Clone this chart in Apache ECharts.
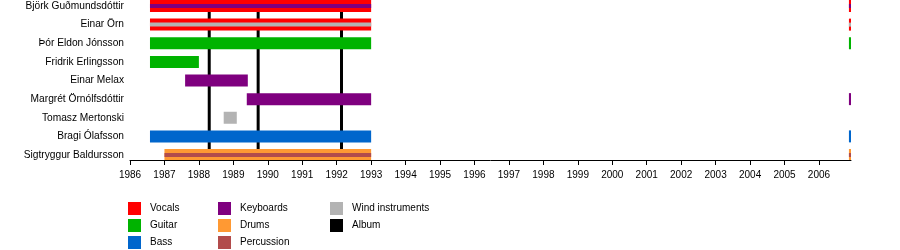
<!DOCTYPE html>
<html>
<head>
<meta charset="utf-8">
<script src="https://cdn.jsdelivr.net/npm/echarts@6/dist/echarts.min.js"></script>
<style>
html,body{margin:0;padding:0;background:#fff;}
#chart{width:900px;height:250px;}
</style>
</head>
<body>
<div id="chart"></div>
<script>
// ---- data ----
const members = ['Björk Guðmundsdóttir','Einar Örn','Þór Eldon Jónsson','Fridrik Erlingsson','Einar Melax','Margrét Örnólfsdóttir','Tomasz Mertonski','Bragi Ólafsson','Sigtryggur Baldursson'];
const roles = ['Vocals','Guitar','Bass','Keyboards','Drums','Percussion','Wind instruments'];
const roleColors = ['#ff0000','#00b300','#0066cc','#7f007f','#ff9933','#b24c4c','#b3b3b3'];
const years = [1986,1987,1988,1989,1990,1991,1992,1993,1994,1995,1996,1997,1998,1999,2000,2001,2002,2003,2004,2005,2006];
const albums = [1988.30, 1989.72, 1992.14];
// main periods: [member, role, start, end]
const periods = [
  ['Björk Guðmundsdóttir','Vocals',1986.58,1993.0],
  ['Björk Guðmundsdóttir','Vocals',2006.87,2006.93],
  ['Einar Örn','Vocals',1986.58,1993.0],
  ['Einar Örn','Vocals',2006.87,2006.93],
  ['Þór Eldon Jónsson','Guitar',1986.58,1993.0],
  ['Þór Eldon Jónsson','Guitar',2006.87,2006.93],
  ['Fridrik Erlingsson','Guitar',1986.58,1988.0],
  ['Einar Melax','Keyboards',1987.6,1989.42],
  ['Margrét Örnólfsdóttir','Keyboards',1989.39,1993.0],
  ['Margrét Örnólfsdóttir','Keyboards',2006.87,2006.93],
  ['Tomasz Mertonski','Wind instruments',1988.72,1989.1],
  ['Bragi Ólafsson','Bass',1986.58,1993.0],
  ['Bragi Ólafsson','Bass',2006.87,2006.93],
  ['Sigtryggur Baldursson','Drums',1987.0,1993.0],
  ['Sigtryggur Baldursson','Drums',2006.87,2006.93]
];
// secondary-role stripes: [member, role, start, end]
const stripes = [
  ['Björk Guðmundsdóttir','Keyboards',1986.58,1993.0],
  ['Björk Guðmundsdóttir','Keyboards',2006.87,2006.93],
  ['Einar Örn','Wind instruments',1986.58,1993.0],
  ['Einar Örn','Wind instruments',2006.87,2006.93],
  ['Sigtryggur Baldursson','Percussion',1987.0,1993.0],
  ['Sigtryggur Baldursson','Percussion',2006.87,2006.93]
];
const xMin = 1986, xMax = 2006.93;

// ---- chart ----
const FONT = '"Liberation Sans", Arial, sans-serif';
const chart = echarts.init(document.getElementById('chart'), null, {renderer:'canvas'});
const memberIdx = members.map((m,i)=>i);

function barRenderer(h, color){
  return function(params, api){
    const s = api.coord([api.value(0), api.value(2)]);
    const e = api.coord([api.value(1), api.value(2)]);
    return {type:'rect', shape:{x:s[0], y:s[1]-h/2, width:e[0]-s[0], height:h}, style:{fill:color}};
  };
}

const series = [];
series.push({
  name:'Album', type:'custom', z:1, silent:true, itemStyle:{color:'#000'},
  encode:{x:0},
  data: albums.map(a=>[a, 0]),
  renderItem: function(params, api){
    const p = api.coord([api.value(0), 0]);
    const cs = params.coordSys;
    return {type:'rect', shape:{x:p[0]-1.5, y:cs.y, width:3, height:cs.height}, style:{fill:'#000'}};
  }
});
roles.forEach((r,i)=>{
  series.push({
    name:r, type:'custom', z:2, silent:true, itemStyle:{color:roleColors[i]},
    encode:{x:[0,1], y:2},
    data: periods.filter(p=>p[1]===r).map(p=>[p[2],p[3],members.indexOf(p[0])]),
    renderItem: barRenderer(12, roleColors[i])
  });
});
roles.forEach((r,i)=>{
  const d = stripes.filter(p=>p[1]===r).map(p=>[p[2],p[3],members.indexOf(p[0])]);
  if(!d.length) return;
  series.push({
    name:r, type:'custom', z:3, silent:true, itemStyle:{color:roleColors[i]},
    encode:{x:[0,1], y:2},
    data: d,
    renderItem: barRenderer(4, roleColors[i])
  });
});

function legendCol(names, left){
  return {
    data: names, orient:'vertical', left:left, top:202, padding:0,
    itemWidth:13, itemHeight:13, itemGap:4, icon:'rect', selectedMode:false,
    textStyle:{fontFamily:FONT, fontSize:10, color:'#000', padding:[2,0,0,4]}
  };
}

chart.setOption({
  animation:false,
  backgroundColor:'#fff',
  textStyle:{fontFamily:FONT},
  grid:{left:130, right:49, top:0, height:160, containLabel:false},
  xAxis:{
    type:'value', min:xMin, max:xMax, z:10, position:'bottom',
    axisLine:{show:true, onZero:false, lineStyle:{color:'#000', width:1}},
    axisTick:{show:true, length:5, customValues:years, lineStyle:{color:'#000'}},
    axisLabel:{customValues:years, fontSize:10, color:'#000', margin:10, fontFamily:FONT,
      formatter: v => String(Math.round(v))},
    splitLine:{show:false}
  },
  yAxis:{
    type:'value', inverse:true, min:-0.322, max:8.268, position:'left',
    axisLine:{show:false, onZero:false}, axisTick:{show:false}, splitLine:{show:false},
    axisLabel:{customValues:memberIdx, fontSize:10.2, color:'#000', margin:6, fontFamily:FONT,
      padding:[2,0,0,0], formatter: v => members[Math.round(v)]}
  },
  legend:[
    legendCol(['Vocals','Guitar','Bass'],128),
    legendCol(['Keyboards','Drums','Percussion'],218),
    legendCol(['Wind instruments','Album'],330)
  ],
  series: series
});
</script>
</body>
</html>
